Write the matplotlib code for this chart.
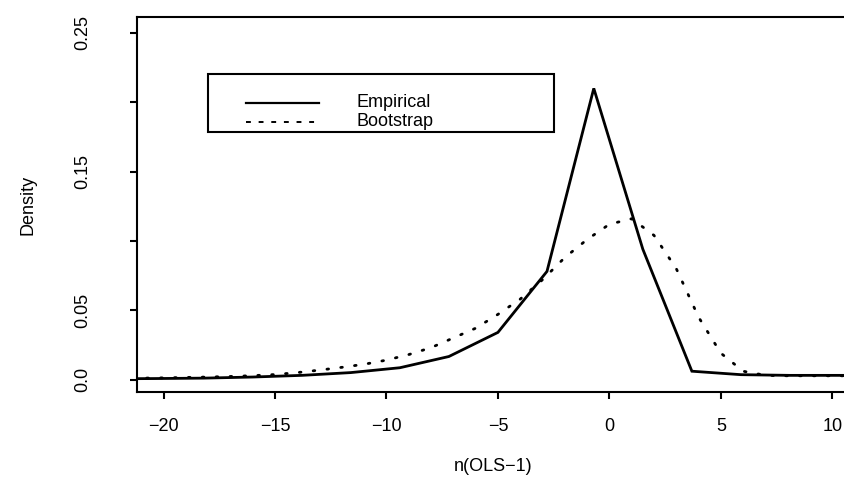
import numpy as np
import matplotlib.pyplot as plt
from matplotlib.patches import Rectangle

plt.rcParams['font.family'] = ['Liberation Sans', 'DejaVu Sans']

# empirical density (polygon through bin midpoints)
emp_x = [-22.6, -20.4, -18.2, -16.0, -13.8, -11.6, -9.4, -7.2, -5.0, -2.8,
         -0.7, 1.5, 3.7, 5.9, 8.1, 10.3, 12.5]
emp_y = [0.0005, 0.0007, 0.001, 0.0018, 0.003, 0.005, 0.0085, 0.0166, 0.034,
         0.078, 0.210, 0.094, 0.006, 0.0035, 0.003, 0.003, 0.003]

# bootstrap density
boot_x = [-22, -21, -20, -19, -18, -17, -16, -15, -14, -13, -12, -11, -10,
          -9, -8, -7, -6, -5, -4, -3, -2, -1, 0, 1, 2, 3, 4, 5, 6, 7, 8,
          9, 10, 11]
boot_y = [0.0008, 0.001, 0.0012, 0.0015, 0.0018, 0.0022, 0.0028, 0.0036,
          0.005, 0.0068, 0.0088, 0.011, 0.014, 0.018, 0.023, 0.030, 0.037,
          0.047, 0.058, 0.072, 0.088, 0.101, 0.112, 0.116, 0.104, 0.080,
          0.045, 0.019, 0.006, 0.003, 0.0027, 0.0027, 0.0027, 0.0027]

legend_labels = ['Empirical', 'Bootstrap']
xticks = [-20, -15, -10, -5, 0, 5, 10]
xtick_labels = ['\u221220', '\u221215', '\u221210', '\u22125', '0', '5', '10']
yticks = [0.0, 0.05, 0.10, 0.15, 0.20, 0.25]
ytick_labels = ['0.0', '0.05', '', '0.15', '', '0.25']

fs = 13

fig = plt.figure(figsize=(8.45, 4.94), dpi=100)
ax = fig.add_axes([137/845, 102/494, 1 - 137/845 + 0.004, 375/494])

ax.plot(emp_x, emp_y, color='black', lw=2.0, solid_joinstyle='miter')
ax.plot(boot_x, boot_y, color='black', lw=2.0, linestyle=(0, (0.6, 4.4)),
        dash_capstyle='round')

ax.set_xlim(-21.19, 10.72)
ax.set_ylim(-0.009, 0.2615)

for s in ['left', 'bottom', 'top']:
    ax.spines[s].set_linewidth(1.5)
ax.spines['right'].set_visible(False)

ax.set_xticks(xticks)
ax.set_xticklabels(xtick_labels, fontsize=fs)
ax.set_yticks(yticks)
ax.set_yticklabels(ytick_labels, fontsize=fs, rotation=90, va='center')
ax.tick_params(axis='x', length=5, width=1.5, pad=14)
ax.tick_params(axis='y', length=5, width=1.5, pad=28)

ax.set_xlabel('n(OLS\u22121)', fontsize=fs, labelpad=16)
ax.set_ylabel('Density', fontsize=fs, labelpad=27)

# legend box, drawn the way R's legend() lays it out
ax.add_patch(Rectangle((0.1003, 0.693), 0.486, 0.155, transform=ax.transAxes,
                       fill=False, edgecolor='black', lw=1.5))
ax.plot([0.153, 0.256], [0.771, 0.771], transform=ax.transAxes,
        color='black', lw=1.6)
ax.plot([0.153, 0.256], [0.720, 0.720], transform=ax.transAxes,
        color='black', lw=1.4, linestyle=(0, (2.5, 4)))
ax.text(0.308, 0.771, legend_labels[0], transform=ax.transAxes,
        fontsize=fs, va='center', ha='left')
ax.text(0.308, 0.720, legend_labels[1], transform=ax.transAxes,
        fontsize=fs, va='center', ha='left')

fig.savefig('out.png', dpi=100)
